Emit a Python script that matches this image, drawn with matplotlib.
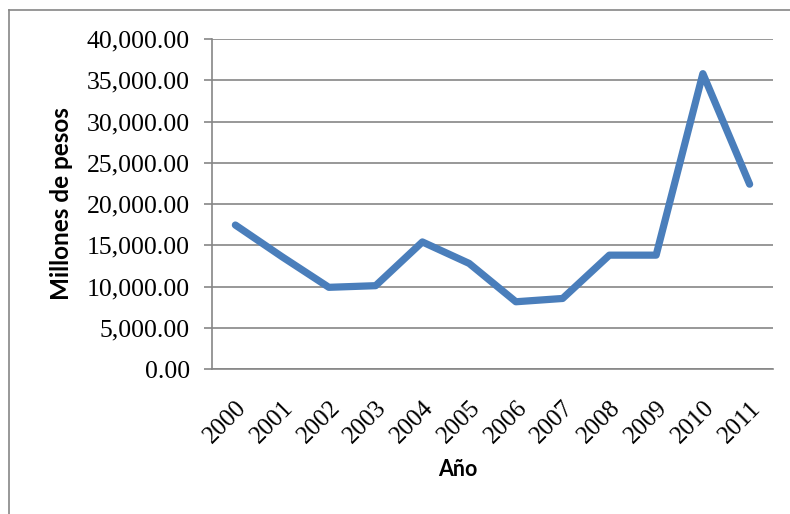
import numpy as np
import matplotlib.pyplot as plt
from matplotlib.lines import Line2D
from matplotlib.ticker import FuncFormatter

years = ["2000", "2001", "2002", "2003", "2004", "2005",
         "2006", "2007", "2008", "2009", "2010", "2011"]
millones = [17450, 13600, 9900, 10100, 15400, 12800,
            8150, 8550, 13800, 13800, 35800, 22400]
y_ticks = [0, 5000, 10000, 15000, 20000, 25000, 30000, 35000, 40000]

grey = "#868686"
blue = "#4A7EBB"

plt.rcParams["font.family"] = "serif"
plt.rcParams["font.serif"] = ["Liberation Serif", "DejaVu Serif"]

fig = plt.figure(figsize=(7.9, 5.14), dpi=100)
ax = fig.add_axes([212 / 790, 1 - 369 / 514, (773 - 212) / 790, (369 - 39) / 514])

x = np.arange(len(years))
ax.plot(x, millones, color=blue, linewidth=5.2,
        solid_capstyle="round", solid_joinstyle="round", zorder=3)

ax.set_xlim(-0.5, len(years) - 0.5)
ax.set_ylim(0, 40000)
ax.set_yticks(y_ticks)
ax.yaxis.set_major_formatter(FuncFormatter(lambda v, p: f"{v:,.2f}"))
ax.grid(axis="y", color=grey, linewidth=1.2)
ax.set_axisbelow(True)

for side in ["top", "right"]:
    ax.spines[side].set_visible(False)
ax.spines["left"].set_color(grey)
ax.spines["left"].set_linewidth(1.2)
ax.spines["bottom"].set_color(grey)
ax.spines["bottom"].set_linewidth(1.2)

ax.tick_params(axis="y", length=6, width=1.2, color=grey, pad=10, labelsize=18.5)
ax.set_xticks(x)
ax.set_xticklabels(years, rotation=45, ha="right", rotation_mode="anchor")
ax.tick_params(axis="x", length=0, pad=20, labelsize=18)

ax.set_ylabel("Millones de pesos", fontsize=17.5, fontweight="bold",
              fontfamily="Lato", labelpad=10)
fig.text(458 / 790, 1 - 470 / 514, "Año", fontsize=15.5, fontweight="bold",
         fontfamily="Lato", ha="center", va="center")

# chart area border (top and left edges)
fig.add_artist(Line2D([9 / 790, 1], [1 - 10 / 514, 1 - 10 / 514],
                      color=grey, linewidth=1.2, transform=fig.transFigure))
fig.add_artist(Line2D([9 / 790, 9 / 790], [0, 1 - 10 / 514],
                      color=grey, linewidth=1.2, transform=fig.transFigure))

fig.savefig("out.png", dpi=100)
